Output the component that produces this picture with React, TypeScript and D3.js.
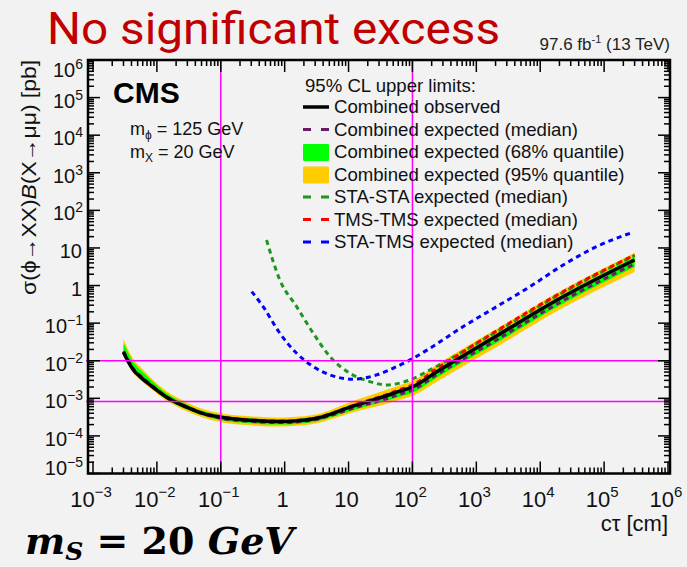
import React from "react";
import * as d3 from "d3";

// ---- data ----
const ctComb = [3e-3, 3.56e-3, 4.28e-3, 5.45e-3, 7.8e-3, 0.0142, 0.0292, 0.0472, 0.1, 0.286, 0.84, 1.7, 3.2, 6, 10.5, 20, 35, 60, 100, 240, 2000, 2.3e4, 3e5];
const observed = [0.0168, 9.46e-3, 5.69e-3, 3.78e-3, 2.27e-3, 1.07e-3, 5.8e-4, 4.17e-4, 3.14e-4, 2.6e-4, 2.4e-4, 2.55e-4, 2.95e-4, 4.1e-4, 5.8e-4, 8.2e-4, 1.1e-3, 1.5e-3, 2.0e-3, 5.1e-3, 0.044, 0.51, 4.8];
const expMedian = [0.01786, 0.01006, 0.00605, 0.00402, 0.00241, 1.07e-3, 5.8e-4, 4.17e-4, 2.95e-4, 2.45e-4, 2.26e-4, 2.4e-4, 2.78e-4, 3.74e-4, 5.13e-4, 7.04e-4, 9.15e-4, 1.248e-3, 1.664e-3, 4.24e-3, 0.0345, 0.4, 3.76];
const exp68Hi = [0.02915, 0.01641, 0.00929, 0.0058, 0.00328, 1.366e-3, 6.97e-4, 4.86e-4, 3.55e-4, 2.94e-4, 2.71e-4, 2.88e-4, 3.33e-4, 4.63e-4, 6.55e-4, 9.27e-4, 1.243e-3, 1.695e-3, 2.26e-3, 5.76e-3, 0.0497, 0.576, 5.77];
const exp68Lo = [0.01533, 0.00863, 0.00519, 0.00345, 0.00207, 9.47e-4, 5.13e-4, 3.69e-4, 2.61e-4, 2.16e-4, 2.0e-4, 2.12e-4, 2.45e-4, 3.31e-4, 4.54e-4, 6.23e-4, 8.1e-4, 1.071e-3, 1.385e-3, 3.53e-3, 0.0287, 0.332, 3.13];
const exp95Hi = [0.03723, 0.01971, 0.01116, 0.00697, 0.0037, 1.545e-3, 7.88e-4, 5.49e-4, 4.01e-4, 3.32e-4, 3.06e-4, 3.26e-4, 3.77e-4, 5.4e-4, 7.88e-4, 1.148e-3, 1.588e-3, 2.166e-3, 2.888e-3, 7.83e-3, 0.0675, 0.783, 7.37];
const exp95Lo = [0.01398, 0.00787, 0.00473, 0.00314, 0.00189, 8.64e-4, 4.54e-4, 3.27e-4, 2.31e-4, 1.91e-4, 1.77e-4, 1.88e-4, 2.17e-4, 2.93e-4, 4.02e-4, 5.34e-4, 6.74e-4, 8.91e-4, 1.153e-3, 2.77e-3, 0.0224, 0.26, 2.3];
const tmsTms = [0.0173, 0.00975, 0.00587, 0.0039, 0.00234, 1.1e-3, 5.98e-4, 4.3e-4, 3.24e-4, 2.68e-4, 2.47e-4, 2.63e-4, 3.04e-4, 4.23e-4, 6.0e-4, 8.7e-4, 1.17e-3, 1.65e-3, 2.26e-3, 6.13e-3, 0.0598, 0.693, 6.52];

const ctStaSta = [0.52, 0.84, 1.54, 2.8, 5.1, 10.5, 21.6, 39.5, 91, 188, 2000, 2.3e4, 3e5];
const staSta = [16.3, 1.41, 0.275, 0.054, 0.0129, 4.65e-3, 2.78e-3, 2.27e-3, 3.08e-3, 5.7e-3, 0.057, 0.66, 6.3];

const ctStaTms = [0.305, 0.46, 0.84, 1.54, 2.8, 5.1, 11.9, 27.5, 56.6, 97, 188, 624, 2080, 6900, 2.29e4, 7.6e4, 2.7e5];
const staTms = [0.69, 0.275, 0.054, 0.0158, 6.97e-3, 4.19e-3, 3.22e-3, 4.19e-3, 6.97e-3, 0.011, 0.0215, 0.081, 0.275, 0.935, 3.53, 10.8, 25.5];

const xDecades = [-3, -2, -1, 0, 1, 2, 3, 4, 5, 6];
const yDecades = [-5, -4, -3, -2, -1, 0, 1, 2, 3, 4, 5, 6];
const refLinesX = [0.1, 100];
const refLinesY = [1e-2, 8.2e-4];

const legendEntries = [
  { label: "Combined observed", kind: "solid", color: "#000000" },
  { label: "Combined expected (median)", kind: "dash", color: "#6b1a6b" },
  { label: "Combined expected (68% quantile)", kind: "box", color: "#00ff00" },
  { label: "Combined expected (95% quantile)", kind: "box", color: "#ffcc00" },
  { label: "STA-STA expected (median)", kind: "dash", color: "#1e961e" },
  { label: "TMS-TMS expected (median)", kind: "dash", color: "#ff0000" },
  { label: "STA-TMS expected (median)", kind: "dash", color: "#0000ff" },
];

const FONT = "'Liberation Sans', Arial, Helvetica, sans-serif";

function powLabel(k: number) {
  if (k === 0) return { base: "1", exp: "" };
  if (k === 1) return { base: "10", exp: "" };
  return { base: "10", exp: k < 0 ? "\u2212" + Math.abs(k) : String(k) };
}

export default function App() {
  const W = 687, H = 567;
  const frame = { left: 88, right: 670, top: 60, bottom: 473.5 };
  const x = d3.scaleLog().domain([1e-3, 1e6]).range([93, 668]);
  const y = d3.scaleLog().domain([1e-5, 1e6]).range([473.5, 60]);

  const line = (xs: number[], ys: number[]) =>
    d3.line<number>().x((_, i) => x(xs[i])).y((v) => y(v)).curve(d3.curveMonotoneX)(ys) || "";
  const area = (xs: number[], lo: number[], hi: number[]) =>
    d3
      .area<number>()
      .x((_, i) => x(xs[i]))
      .y0((_, i) => y(lo[i]))
      .y1((_, i) => y(hi[i]))
      .curve(d3.curveMonotoneX)(xs.map((_, i) => i)) || "";

  const xMinor: number[] = [];
  for (let k = -3; k < 6; k++) for (let m = 2; m <= 9; m++) xMinor.push(m * Math.pow(10, k));
  const yMinor: number[] = [];
  for (let k = -5; k < 6; k++) for (let m = 2; m <= 9; m++) yMinor.push(m * Math.pow(10, k));

  const tickEls: JSX.Element[] = [];
  xDecades.forEach((k) => {
    const px = x(Math.pow(10, k));
    tickEls.push(<line key={"xb" + k} x1={px} x2={px} y1={frame.bottom} y2={frame.bottom - 12} />);
    tickEls.push(<line key={"xt" + k} x1={px} x2={px} y1={frame.top} y2={frame.top + 12} />);
  });
  xMinor.forEach((v, i) => {
    const px = x(v);
    tickEls.push(<line key={"xbm" + i} x1={px} x2={px} y1={frame.bottom} y2={frame.bottom - 6} />);
    tickEls.push(<line key={"xtm" + i} x1={px} x2={px} y1={frame.top} y2={frame.top + 6} />);
  });
  yDecades.forEach((k) => {
    const py = y(Math.pow(10, k));
    tickEls.push(<line key={"yl" + k} x1={frame.left} x2={frame.left + 12} y1={py} y2={py} />);
    tickEls.push(<line key={"yr" + k} x1={frame.right} x2={frame.right - 12} y1={py} y2={py} />);
  });
  yMinor.forEach((v, i) => {
    const py = y(v);
    tickEls.push(<line key={"ylm" + i} x1={frame.left} x2={frame.left + 6} y1={py} y2={py} />);
    tickEls.push(<line key={"yrm" + i} x1={frame.right} x2={frame.right - 6} y1={py} y2={py} />);
  });

  const legX = 303, legY0 = 113, legDy = 22.5;

  return (
    <svg
      width={W}
      height={H}
      viewBox={`0 0 ${W} ${H}`}
      style={{ position: "absolute", left: 0, top: 0, background: "#f2f2f2" }}
    >
      <rect x={0} y={0} width={W} height={H} fill="#f2f2f2" />
      <defs>
        <clipPath id="plotClip">
          <rect x={frame.left} y={frame.top} width={frame.right - frame.left} height={frame.bottom - frame.top} />
        </clipPath>
      </defs>

      {/* Title */}
      <text x={47} y={44} fontFamily="Roboto, 'Open Sans', sans-serif" fontSize={44} fill="#c00000" textLength={453} lengthAdjust="spacingAndGlyphs">
        No significant excess
      </text>
      <text x={670} y={50} textAnchor="end" fontFamily={FONT} fontSize={17} fill="#222">
        97.6 fb<tspan dy={-7} fontSize={11}>-1</tspan><tspan dy={7}> (13 TeV)</tspan>
      </text>

      {/* bands and curves */}
      <g clipPath="url(#plotClip)">
        <path d={area(ctComb, exp95Lo, exp95Hi)} fill="#ffcc00" />
        <path d={area(ctComb, exp68Lo, exp68Hi)} fill="#00ff00" />
        <path d={line(ctStaSta, staSta)} fill="none" stroke="#1e961e" strokeWidth={3} strokeDasharray="5,4" />
        <path d={line(ctComb, tmsTms)} fill="none" stroke="#ff0000" strokeWidth={3} strokeDasharray="5,4" />
        <path d={line(ctStaTms, staTms)} fill="none" stroke="#0000ff" strokeWidth={3} strokeDasharray="5,4" />
        <path d={line(ctComb, expMedian)} fill="none" stroke="#6b1a6b" strokeWidth={3} strokeDasharray="5,4" />
        <path d={line(ctComb, observed)} fill="none" stroke="#000" strokeWidth={3.5} />
      </g>

      {/* reference lines */}
      {refLinesX.map((v) => (
        <line key={"rx" + v} x1={x(v)} x2={x(v)} y1={frame.top} y2={frame.bottom} stroke="#ff00ff" strokeWidth={1.5} />
      ))}
      {refLinesY.map((v) => (
        <line key={"ry" + v} x1={frame.left - 2} x2={frame.right} y1={y(v)} y2={y(v)} stroke="#ff00ff" strokeWidth={1.5} />
      ))}

      {/* frame and ticks */}
      <g stroke="#000" strokeWidth={1.5}>{tickEls}</g>
      <rect
        x={frame.left}
        y={frame.top}
        width={frame.right - frame.left}
        height={frame.bottom - frame.top}
        fill="none"
        stroke="#000"
        strokeWidth={2.5}
      />

      {/* y tick labels */}
      {yDecades.map((k) => {
        const l = powLabel(k);
        const py = y(Math.pow(10, k));
        const base = Math.min(Math.max(py + 10, 77), 475);
        return (
          <text key={"yl" + k} x={l.exp ? 83 : 82} y={base} textAnchor="end" fontFamily={FONT} fontSize={20} fill="#111">
            {l.base}
            {l.exp && (
              <tspan dy={-8} fontSize={14}>
                {l.exp}
              </tspan>
            )}
          </text>
        );
      })}
      {/* x tick labels */}
      {xDecades.map((k) => {
        const l = powLabel(k);
        const px = x(Math.pow(10, k));
        return (
          <text key={"xl" + k} x={px - 2} y={507} textAnchor="middle" fontFamily={FONT} fontSize={22} fill="#111">
            {l.base}
            {l.exp && (
              <tspan dy={-10} fontSize={15}>
                {l.exp}
              </tspan>
            )}
          </text>
        );
      })}

      {/* axis titles */}
      <text x={668} y={531} textAnchor="end" fontFamily={FONT} fontSize={22} fill="#111">
        c{"\u03c4"} [cm]
      </text>
      <text
        transform="translate(36,60) rotate(-90)"
        textAnchor="end"
        fontFamily={FONT}
        fontSize={21}
        fill="#111"
        textLength={235}
        lengthAdjust="spacingAndGlyphs"
      >
        {"\u03c3(\u03d5\u2192XX)"}
        <tspan fontStyle="italic">B</tspan>
        {"(X\u2192\u03bc\u03bc) [pb]"}
      </text>

      {/* CMS labels */}
      <text x={113} y={103} fontFamily={FONT} fontSize={30} fontWeight="bold" fill="#000">
        CMS
      </text>
      <text x={130} y={135} fontFamily={FONT} fontSize={18} fill="#111">
        m<tspan dy={4} fontSize={12}>{"\u03d5"}</tspan>
        <tspan dy={-4}> = 125 GeV</tspan>
      </text>
      <text x={130} y={158} fontFamily={FONT} fontSize={18} fill="#111">
        m<tspan dy={4} fontSize={12}>X</tspan>
        <tspan dy={-4}> = 20 GeV</tspan>
      </text>

      {/* legend */}
      <text x={305} y={92} fontFamily={FONT} fontSize={18.6} fill="#111">
        95% CL upper limits:
      </text>
      {legendEntries.map((e, i) => {
        const by = legY0 + i * legDy;
        const cy = by - 6;
        return (
          <g key={e.label}>
            {e.kind === "solid" && <line x1={legX} x2={legX + 26} y1={cy} y2={cy} stroke={e.color} strokeWidth={3.5} />}
            {e.kind === "dash" && (
              <line x1={legX} x2={legX + 26} y1={cy} y2={cy} stroke={e.color} strokeWidth={3} strokeDasharray="8,10" />
            )}
            {e.kind === "box" && <rect x={legX} y={cy - 8} width={26} height={17} fill={e.color} rx={1} />}
            <text x={334} y={by} fontFamily={FONT} fontSize={18.6} fill="#111">
              {e.label}
            </text>
          </g>
        );
      })}

      {/* bottom annotation */}
      <text x={25} y={554} fontFamily="'DejaVu Serif', 'Liberation Serif', serif" fontSize={38} fontWeight="bold" fill="#000">
        <tspan fontStyle="italic">m</tspan>
        <tspan fontStyle="italic" fontSize={25} dy={6}>S</tspan>
        <tspan dy={-6}> = 20 </tspan>
        <tspan fontStyle="italic">GeV</tspan>
      </text>
    </svg>
  );
}
